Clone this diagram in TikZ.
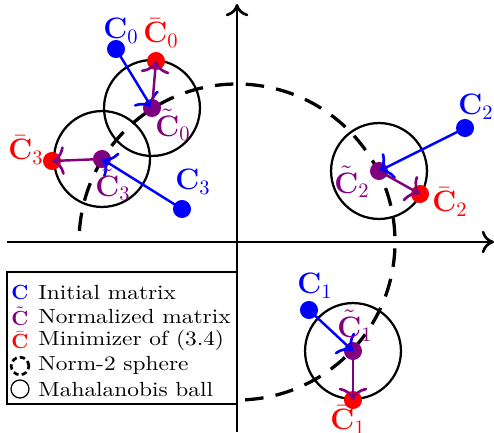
\documentclass[tikz,border=0pt]{standalone}
\usetikzlibrary{arrows.meta}
\definecolor{cblue}{RGB}{0,0,255}
\definecolor{cred}{RGB}{255,0,0}
\definecolor{cpurple}{RGB}{128,0,128}
\newcommand{\hstretch}[1]{\scalebox{1.14}[1]{#1}}
\begin{document}
\begin{tikzpicture}[x=0.488pt,y=-0.488pt,
  dot/.style={circle,fill=#1,inner sep=0pt,minimum size=8.8pt},
  lab/.style={text=#1,font=\Large,inner sep=0pt},
  ball/.style={draw=black,line width=1.1pt},
  arr/.style={draw=#1,line width=1.2pt,-{To[length=6pt,width=14pt,line width=1.3pt]}},
  axisline/.style={line width=1.3pt,-{To[length=6pt,width=11pt]}},
  sphere/.style={line width=1.6pt,dash pattern=on 9pt off 6pt},
  legtext/.style={anchor=west,inner sep=0pt},
  legicon/.style={inner sep=0pt},
]
\useasboundingbox (0,0) rectangle (494,432);
% axes
\coordinate (O) at (237,242);
\coordinate (xl) at (7,242);
\coordinate (xr) at (494,242);
\coordinate (yb) at (237,432);
\coordinate (yt) at (237,4);
\draw[axisline] (xl) -- (xr);
\draw[axisline] (yb) -- (yt);
% norm-2 sphere
\draw[sphere] (O) ++(176:77.1pt) arc[start angle=176, end angle=-90, radius=77.1pt];
% points
\node[dot=cpurple] (t0) at (152,108) {};
\node[dot=cpurple] (t1) at (353,351) {};
\node[dot=cpurple] (t2) at (379,171) {};
\node[dot=cpurple] (t3) at (102,159) {};
% Mahalanobis balls
\draw[ball] (t0.center) circle[radius=23.4pt];
\draw[ball] (t1.center) circle[radius=23.4pt];
\draw[ball] (t2.center) circle[radius=23.4pt];
\draw[ball] (t3.center) circle[radius=23.4pt];
\node[dot=cblue] (c0) at (116,49) {};
\node[dot=cblue] (c1) at (309,310) {};
\node[dot=cblue] (c2) at (465,128) {};
\node[dot=cblue] (c3) at (182,209) {};
\node[dot=cred] (b0) at (156,61) {};
\node[dot=cred] (b1) at (353,400) {};
\node[dot=cred] (b2) at (420,194) {};
\node[dot=cred] (b3) at (52,161) {};
% arrows
\foreach \i in {0,1,2,3}{
  \draw[arr=cblue] (c\i.center) -- (t\i.center);
  \draw[arr=cpurple] (t\i.center) -- (b\i.center);
}
% labels
\node[lab=cblue] (lc0) at (121,31) {$\mathbf{C}_0$};
\node[lab=cred] (lb0) at (161,33) {$\bar{\mathbf{C}}_0$};
\node[lab=cpurple] (lt0) at (173,125) {$\tilde{\mathbf{C}}_0$};
\node[lab=cblue] (lc3) at (193,182) {$\mathbf{C}_3$};
\node[lab=cpurple] (lt3) at (113,185) {$\tilde{\mathbf{C}}_3$};
\node[lab=cred] (lb3) at (26,150) {$\bar{\mathbf{C}}_3$};
\node[lab=cblue] (lc2) at (476,107) {$\mathbf{C}_2$};
\node[lab=cpurple] (lt2) at (352,182) {$\tilde{\mathbf{C}}_2$};
\node[lab=cred] (lb2) at (450,202) {$\bar{\mathbf{C}}_2$};
\node[lab=cblue] (lc1) at (315,286) {$\mathbf{C}_1$};
\node[lab=cpurple] (lt1) at (355,326) {$\tilde{\mathbf{C}}_1$};
\node[lab=cred] (lb1) at (348,420) {$\bar{\mathbf{C}}_1$};
% legend
\draw[line width=0.5pt,fill=white] (7,272) rectangle (237,404);
\node[legicon,text=cblue] (li1) at (20,292) {$\mathbf{C}$};
\node[legicon,text=cpurple] (li2) at (20,316) {$\tilde{\mathbf{C}}$};
\node[legicon,text=cred] (li3) at (20,340) {$\bar{\mathbf{C}}$};
\node[circle,draw,line width=1.3pt,dash pattern=on 2.6pt off 1.6pt,minimum size=8.6pt,inner sep=0pt] (li4) at (20,366) {};
\node[circle,draw,line width=0.6pt,minimum size=8.8pt,inner sep=0pt] (li5) at (20,389) {};
\node[legtext] (lt1x) at (38,292) {\hstretch{Initial matrix}};
\node[legtext] (lt2x) at (38,316) {\hstretch{Normalized matrix}};
\node[legtext] (lt3x) at (38,340) {\hstretch{Minimizer of (3.4)}};
\node[legtext] (lt4x) at (38,365) {\hstretch{Norm-2 sphere}};
\node[legtext] (lt5x) at (38,389) {\hstretch{Mahalanobis ball}};
\end{tikzpicture}
\end{document}
